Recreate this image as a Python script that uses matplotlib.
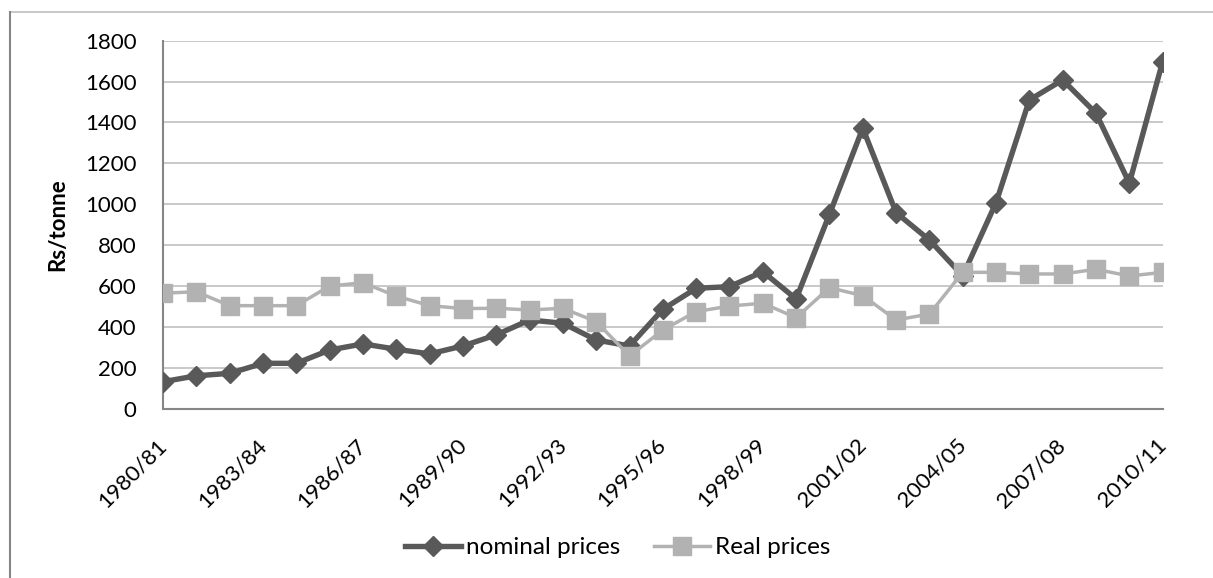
import matplotlib
matplotlib.use("Agg")
import matplotlib.pyplot as plt
from matplotlib.lines import Line2D

# years 1980/81 .. 2010/11
years = [f"{y}/{str(y + 1)[-2:]}" for y in range(1980, 2011)]

nominal = [132, 161, 173, 222, 222, 287, 317, 291, 268, 307,
           361, 434, 418, 336, 307, 486, 589, 597, 670, 537,
           951, 1372, 959, 825, 650, 1008, 1510, 1608, 1445, 1103,
           1698]
real = [565, 572, 504, 504, 504, 600, 616, 551, 504, 490,
        491, 483, 491, 426, 258, 385, 475, 502, 516, 445,
        592, 553, 434, 463, 667, 667, 659, 659, 682, 649,
        667]

plt.rcParams['font.family'] = ['Lato', 'DejaVu Sans']

fig = plt.figure(figsize=(12.13, 5.78), dpi=100)
ax = fig.add_axes([0.1344, 0.2929, 0.9585 - 0.1344, 0.6367])

x = list(range(len(years)))
ax.plot(x, nominal, color='#595959', lw=3.9, marker='D', ms=10,
        label='nominal prices', zorder=3)
ax.plot(x, real, color='#B2B2B2', lw=2.5, marker='s', ms=13.5,
        label='Real prices', zorder=4)

ax.set_xlim(0, len(years) - 1)
ax.set_ylim(0, 1800)
ax.set_yticks(range(0, 1801, 200))
ax.set_xticks(x[::3])
ax.set_xticklabels(years[::3], rotation=45, ha='right', va='center',
                   rotation_mode='anchor')
ax.tick_params(axis='both', length=0, labelsize=16, colors='black')
ax.tick_params(axis='y', pad=19)
ax.tick_params(axis='x', pad=24)

ax.grid(axis='y', color='#C0C0C0', lw=1.2)
ax.set_axisbelow(True)
for s in ['top', 'right']:
    ax.spines[s].set_visible(False)
for s in ['left', 'bottom']:
    ax.spines[s].set_color('#868686')
    ax.spines[s].set_linewidth(1.5)

ax.set_ylabel('Rs/tonne', fontsize=16, fontweight='bold', labelpad=12)

# legend at bottom
handles = [Line2D([], [], color='#595959', lw=3.9, marker='D', ms=10),
           Line2D([], [], color='#B2B2B2', lw=2.5, marker='s', ms=13.5)]
fig.legend(handles, ['nominal prices', 'Real prices'], loc='center',
           bbox_to_anchor=(0.509, 0.052), ncol=2, frameon=False, fontsize=17.5,
           handlelength=2.3, handletextpad=0.2, columnspacing=1.4)

# partial chart border
fig.add_artist(Line2D([10 / 1213, 1], [1 - 12 / 578, 1 - 12 / 578],
                      color='#BFBFBF', lw=1.2))
fig.add_artist(Line2D([10 / 1213, 10 / 1213], [0, 1 - 12 / 578],
                      color='#868686', lw=1.5))

fig.savefig('out.png', dpi=100)
